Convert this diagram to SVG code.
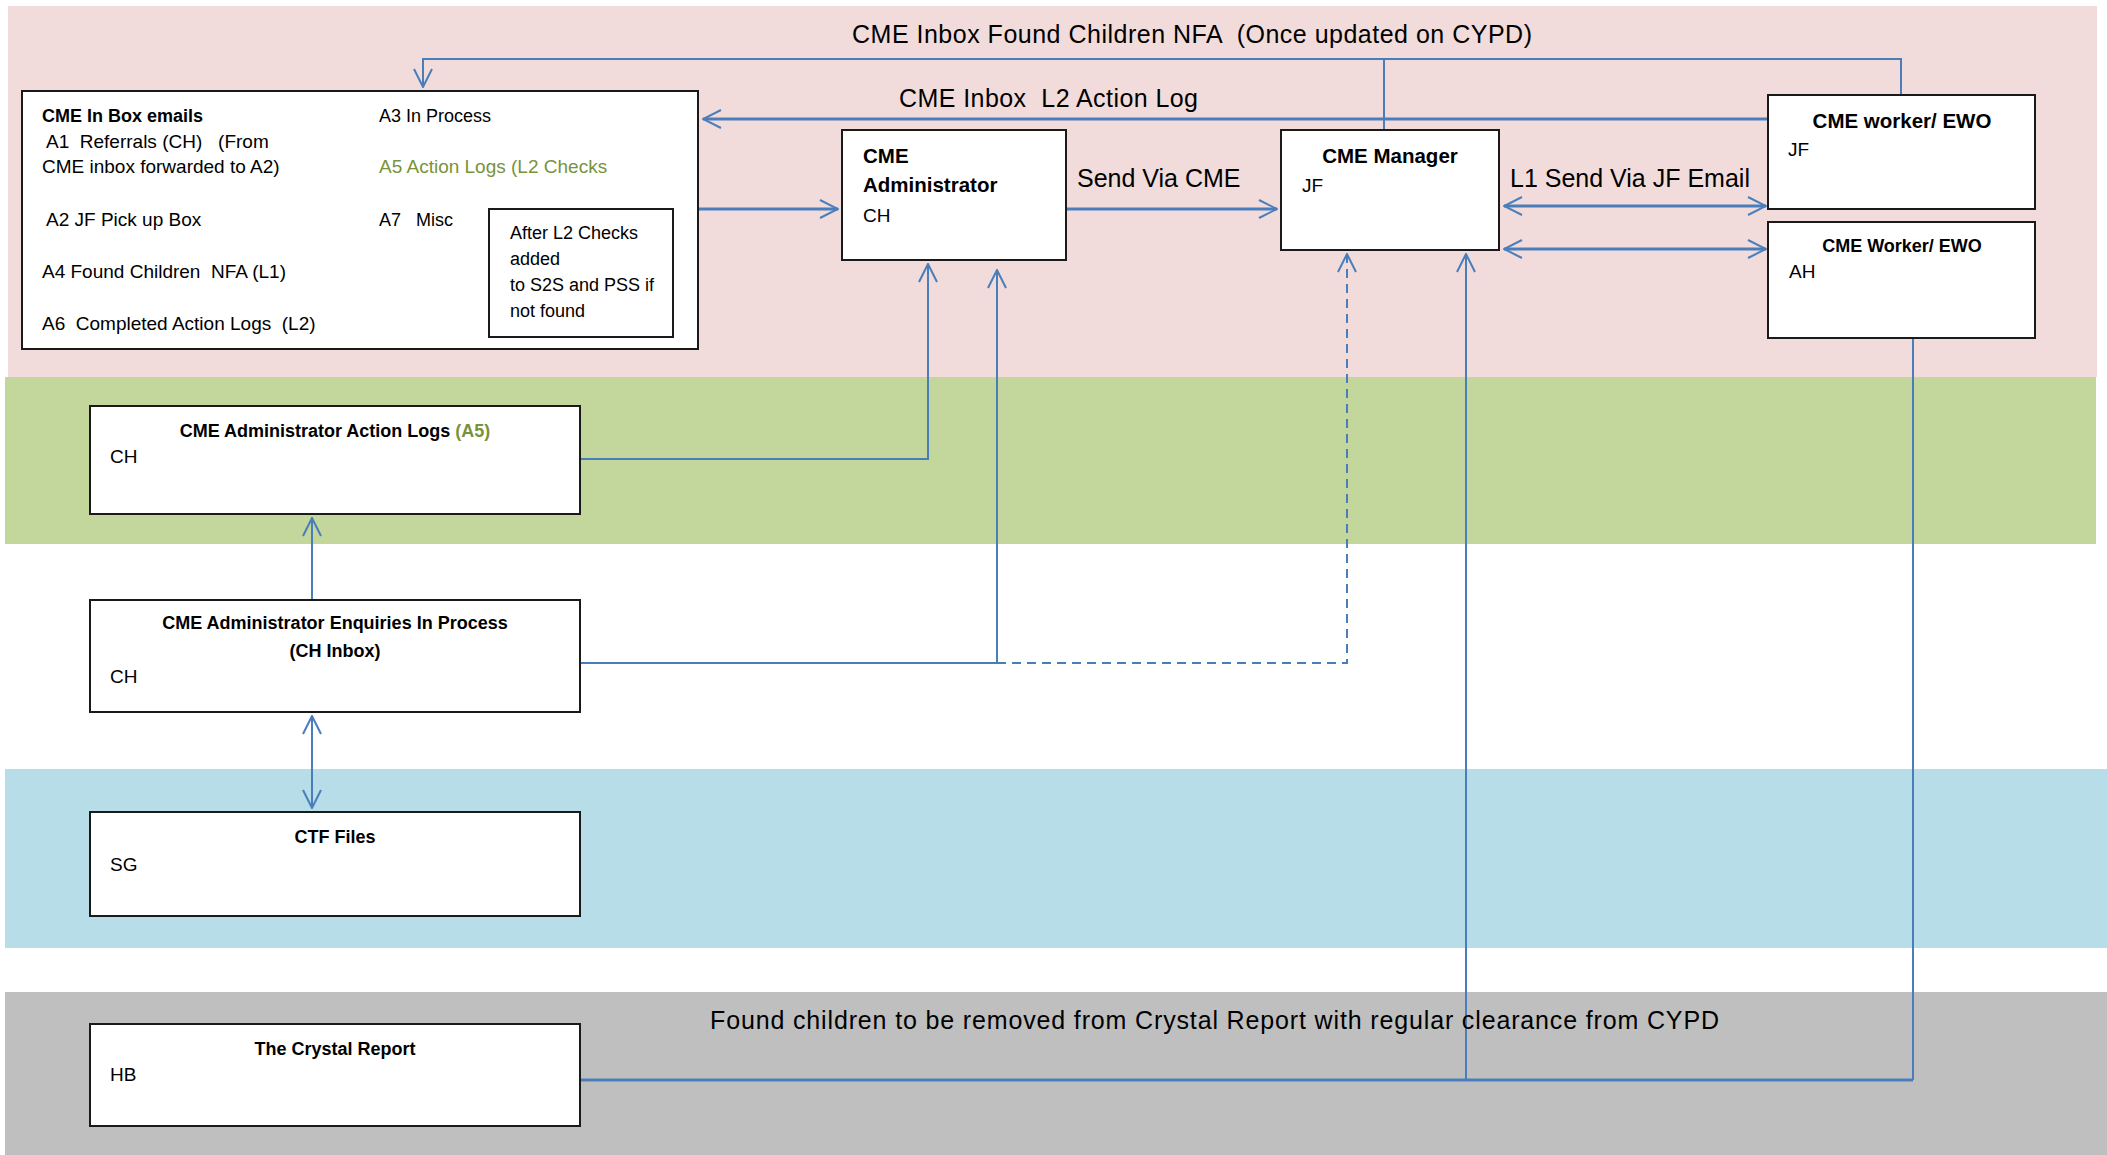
<svg xmlns="http://www.w3.org/2000/svg" width="2107" height="1155" viewBox="0 0 2107 1155" xml:space="preserve">
<style>
text{font-family:"Liberation Sans",Arial,sans-serif;fill:#000;white-space:pre}
.b{font-weight:bold}
.s{font-size:18px}
.s2{font-size:19px}
.m{font-size:19px}
.t{font-size:20.5px;font-weight:bold}
.lab{font-size:25px}
.box{fill:#fff;stroke:#1a1a1a;stroke-width:2}
.c{fill:none;stroke:#4A7EBB;stroke-width:2}
.ck{stroke-width:3}
.d{stroke-dasharray:9 6}
.g{fill:#77933C}
.mid{text-anchor:middle}
</style>
<defs>
<marker id="ah" viewBox="0 0 20 20" refX="19" refY="10" markerWidth="20" markerHeight="20" markerUnits="userSpaceOnUse" orient="auto-start-reverse">
<path d="M1,1 L19,10 L1,19" fill="none" stroke="#4A7EBB" stroke-width="2"/>
</marker>
</defs>
<g id="lanes">
<rect x="8" y="6" width="2089" height="371" fill="#F2DCDB"/>
<rect x="5" y="377" width="2091" height="167" fill="#C3D69B"/>
<rect x="5" y="769" width="2102" height="179" fill="#B7DDE8"/>
<rect x="5" y="992" width="2102" height="163" fill="#BFBFBF"/>
</g>
<g id="connectors">
<path class="c" d="M1901,95 V59 H423 V87" marker-end="url(#ah)"/>
<path class="c" d="M1384,130 V59"/>
<path class="c ck" d="M1768,119 H703" marker-end="url(#ah)"/>
<path class="c ck" d="M698,209 H838" marker-end="url(#ah)"/>
<path class="c ck" d="M1066,209 H1277" marker-end="url(#ah)"/>
<path class="c ck" d="M1504,206 H1766" marker-start="url(#ah)" marker-end="url(#ah)"/>
<path class="c ck" d="M1504,249 H1766" marker-start="url(#ah)" marker-end="url(#ah)"/>
<path class="c" d="M580,459 H928 V264" marker-end="url(#ah)"/>
<path class="c" d="M580,663 H997 V270" marker-end="url(#ah)"/>
<path class="c d" d="M997,663 H1347 V254" marker-end="url(#ah)"/>
<path class="c" d="M312,600 V518" marker-end="url(#ah)"/>
<path class="c" d="M312,716 V808" marker-start="url(#ah)" marker-end="url(#ah)"/>
<path class="c ck" d="M580,1080 H1913"/>
<path class="c" d="M1913,1080 V338"/>
<path class="c" d="M1466,1080 V254" marker-end="url(#ah)"/>
</g>
<g id="labels">
<text class="lab" x="852" y="43" textLength="680" lengthAdjust="spacing">CME Inbox Found Children NFA  (Once updated on CYPD)</text>
<text class="lab" x="899" y="107" textLength="299" lengthAdjust="spacing">CME Inbox  L2 Action Log</text>
<text class="lab" x="1077" y="187">Send Via CME</text>
<text class="lab" x="1510" y="187">L1 Send Via JF Email</text>
<text class="lab" x="710" y="1029" textLength="1009" lengthAdjust="spacing">Found children to be removed from Crystal Report with regular clearance from CYPD</text>
</g>
<g id="node-inbox">
<rect class="box" x="22" y="91" width="676" height="258"/>
<text class="s b" x="42" y="122">CME In Box emails</text>
<text class="s2" x="46" y="148">A1  Referrals (CH)   (From</text>
<text class="s2" x="42" y="173">CME inbox forwarded to A2)</text>
<text class="s2" x="46" y="226">A2 JF Pick up Box</text>
<text class="s2" x="42" y="278">A4 Found Children  NFA (L1)</text>
<text class="s2" x="42" y="330">A6  Completed Action Logs  (L2)</text>
<text class="s" x="379" y="122">A3 In Process</text>
<text class="s2 g" x="379" y="173">A5 Action Logs (L2 Checks</text>
<text class="s" x="379" y="226">A7   Misc</text>
</g>
<g id="node-after-l2">
<rect class="box" x="489" y="209" width="184" height="128"/>
<text class="s" x="510" y="239">After L2 Checks</text>
<text class="s" x="510" y="265">added</text>
<text class="s" x="510" y="291">to S2S and PSS if</text>
<text class="s" x="510" y="317">not found</text>
</g>
<g id="node-admin">
<rect class="box" x="842" y="130" width="224" height="130"/>
<text class="t" x="863" y="163">CME</text>
<text class="t" x="863" y="192">Administrator</text>
<text class="m" x="863" y="222">CH</text>
</g>
<g id="node-manager">
<rect class="box" x="1281" y="130" width="218" height="120"/>
<text class="t mid" x="1390" y="163">CME Manager</text>
<text class="m" x="1302" y="192">JF</text>
</g>
<g id="node-worker-jf">
<rect class="box" x="1768" y="95" width="267" height="114"/>
<text class="t mid" x="1902" y="128">CME worker/ EWO</text>
<text class="m" x="1788" y="156">JF</text>
</g>
<g id="node-worker-ah">
<rect class="box" x="1768" y="222" width="267" height="116"/>
<text class="s b mid" x="1902" y="252">CME Worker/ EWO</text>
<text class="m" x="1789" y="278">AH</text>
</g>
<g id="node-action-logs">
<rect class="box" x="90" y="406" width="490" height="108"/>
<text class="s b mid" x="335" y="437">CME Administrator Action Logs <tspan class="g">(A5)</tspan></text>
<text class="m" x="110" y="463">CH</text>
</g>
<g id="node-enquiries">
<rect class="box" x="90" y="600" width="490" height="112"/>
<text class="s b mid" x="335" y="629">CME Administrator Enquiries In Process</text>
<text class="s b mid" x="335" y="657">(CH Inbox)</text>
<text class="m" x="110" y="683">CH</text>
</g>
<g id="node-ctf">
<rect class="box" x="90" y="812" width="490" height="104"/>
<text class="s b mid" x="335" y="843">CTF Files</text>
<text class="m" x="110" y="871">SG</text>
</g>
<g id="node-crystal">
<rect class="box" x="90" y="1024" width="490" height="102"/>
<text class="s b mid" x="335" y="1055">The Crystal Report</text>
<text class="m" x="110" y="1081">HB</text>
</g>
</svg>
